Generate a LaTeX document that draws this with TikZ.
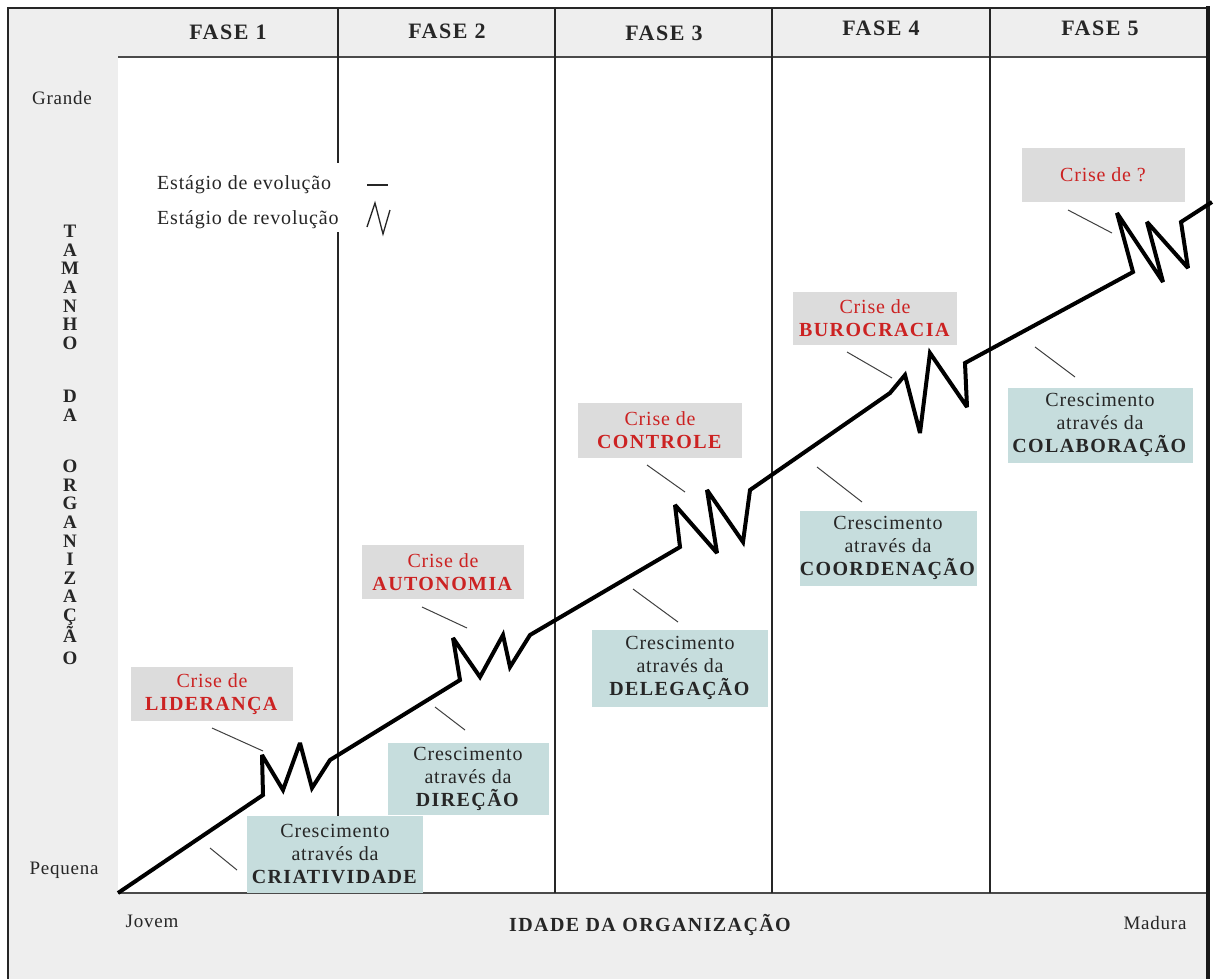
\documentclass[tikz,border=0pt]{standalone}
\usepackage{fontspec}
\setmainfont{Liberation Serif}[LetterSpace=4, BoldFeatures={LetterSpace=7}]

\definecolor{panel}{HTML}{EEEEEE}
\definecolor{crisisgray}{HTML}{DCDCDC}
\definecolor{growthteal}{HTML}{C6DDDD}
\definecolor{crisisred}{HTML}{CC2222}
\definecolor{rulegray}{HTML}{4A4A4A}

\begin{document}
\begin{tikzpicture}[
  x=1pt, y=-1pt,
  rulehoriz/.style={draw=rulegray, line width=2pt},
  divider/.style={draw=black!85, line width=1.6pt},
  phase/.style={font=\bfseries\fontsize{22}{24}\selectfont, text=black!85, inner sep=0pt},
  sidelabel/.style={font=\fontsize{19}{22}\selectfont, text=black!85, inner sep=0pt},
  axisletters/.style={font=\bfseries\fontsize{19}{18.6}\selectfont, text=black!85, align=center, inner sep=0pt, anchor=north},
  crisisbox/.style={fill=crisisgray, inner sep=0pt, align=center, text=crisisred,
    font=\fontsize{20}{23}\selectfont},
  growthbox/.style={fill=growthteal, inner sep=0pt, align=center, text=black!85,
    font=\fontsize{20}{23}\selectfont},
  legendtext/.style={font=\fontsize{20}{23}\selectfont, text=black!85, inner sep=0pt, anchor=west},
  leader/.style={draw=black!75, line width=1pt},
  trend/.style={draw=black, line width=4pt, line join=miter, miter limit=3},
]
\useasboundingbox (0,0) rectangle (1215,978);
\clip (0,0) rectangle (1215,978);

% backgrounds
\fill[white] (0,0) rectangle (1215,978);
\fill[panel] (8,8) rectangle (1208,995);
\fill[white] (118,57) rectangle (1208,893);

% header and base rules
\draw[rulehoriz] (118,57) -- (1208,57);
\draw[rulehoriz] (118,893) -- (1208,893);

% phase dividers (the first one leaves room for the legend)
\draw[divider] (338,8) -- (338,163);
\draw[divider] (338,232) -- (338,893);
\draw[divider] (555,8) -- (555,893);
\draw[divider] (772,8) -- (772,893);
\draw[divider] (990,8) -- (990,893);

% outer frame
\draw[black!85, line width=2pt] (8,995) -- (8,8) -- (1208,8);
\draw[black!90, line width=4pt] (1208,6) -- (1208,995);

% phase headings
\node[phase] (f1) at (228,32) {FASE 1};
\node[phase] (f2) at (447,31) {FASE 2};
\node[phase] (f3) at (664,33) {FASE 3};
\node[phase] (f4) at (881,28) {FASE 4};
\node[phase] (f5) at (1100,28) {FASE 5};

% vertical axis
\node[sidelabel] (big) at (62,98) {Grande};
\node[sidelabel] (small) at (64,870) {Pequena};
\node[axisletters] (ytam) at (70,225) {T\\A\\M\\A\\N\\H\\O};
\node[axisletters] (yda) at (70,390) {D\\A};
\node[axisletters] (yorg) at (70,460) {O\\R\\G\\A\\N\\I\\Z\\A\\Ç\\Ã\\[3pt]O};

% horizontal axis
\node[sidelabel] (young) at (152,921) {Jovem};
\node[phase, font=\bfseries\fontsize{20}{22}\selectfont] (xlab) at (650,925) {IDADE DA ORGANIZAÇÃO};
\node[sidelabel] (mature) at (1155,923) {Madura};

% legend
\node[legendtext] (evo) at (157,185) {Estágio de evolução};
\node[legendtext] (rev) at (157,220) {Estágio de revolução};
\draw[black!85, line width=1.3pt] (367,185) -- (388,185);
\draw[black!85, line width=1.3pt, line join=miter] (367,227) -- (375,203) -- (383,234) -- (390,210);

% growth trend with revolutions
\draw[trend] (118,893) -- (263,795)
  -- (262,755) -- (283,790) -- (300,743) -- (312,788) -- (330,760)
  -- (460,680)
  -- (453,638) -- (480,677) -- (503,635) -- (510,667) -- (530,635)
  -- (680,547)
  -- (675,505) -- (717,553) -- (707,490) -- (743,542) -- (750,490)
  -- (890,393)
  -- (905,375) -- (920,433) -- (930,353) -- (967,407) -- (965,363)
  -- (1133,272)
  -- (1117,213) -- (1163,282) -- (1147,222) -- (1188,268) -- (1181,222)
  -- (1212,202);

% crisis boxes
\node[crisisbox, minimum width=162, minimum height=54] (cr1) at (212,694)
  {Crise de\\\textbf{LIDERANÇA}};
\node[crisisbox, minimum width=162, minimum height=54] (cr2) at (443,572)
  {Crise de\\\textbf{AUTONOMIA}};
\node[crisisbox, minimum width=164, minimum height=55] (cr3) at (660,430)
  {Crise de\\\textbf{CONTROLE}};
\node[crisisbox, minimum width=164, minimum height=53] (cr4) at (875,318)
  {Crise de\\\textbf{BUROCRACIA}};
\node[crisisbox, minimum width=163, minimum height=54] (cr5) at (1103,175)
  {Crise de ?};

% growth boxes
\node[growthbox, minimum width=176, minimum height=77] (gr1) at (335,854)
  {Crescimento\\através da\\\textbf{CRIATIVIDADE}};
\node[growthbox, minimum width=161, minimum height=72] (gr2) at (468,779)
  {Crescimento\\através da\\\textbf{DIREÇÃO}};
\node[growthbox, minimum width=176, minimum height=77] (gr3) at (680,668)
  {Crescimento\\através da\\\textbf{DELEGAÇÃO}};
\node[growthbox, minimum width=177, minimum height=75] (gr4) at (888,548)
  {Crescimento\\através da\\\textbf{COORDENAÇÃO}};
\node[growthbox, minimum width=185, minimum height=75] (gr5) at (1100,425)
  {Crescimento\\através da\\\textbf{COLABORAÇÃO}};

% leader ticks
\coordinate (cr1a) at (212,728); \coordinate (cr1b) at (263,751);
\coordinate (gr1a) at (210,848); \coordinate (gr1b) at (237,870);
\coordinate (cr2a) at (422,607); \coordinate (cr2b) at (467,628);
\coordinate (gr2a) at (435,707); \coordinate (gr2b) at (465,730);
\coordinate (cr3a) at (647,465); \coordinate (cr3b) at (685,492);
\coordinate (gr3a) at (633,589); \coordinate (gr3b) at (678,622);
\coordinate (cr4a) at (847,352); \coordinate (cr4b) at (892,378);
\coordinate (gr4a) at (817,467); \coordinate (gr4b) at (862,502);
\coordinate (cr5a) at (1068,210); \coordinate (cr5b) at (1112,233);
\coordinate (gr5a) at (1035,347); \coordinate (gr5b) at (1075,377);
\foreach \t in {cr1,gr1,cr2,gr2,cr3,gr3,cr4,gr4,cr5,gr5}
  \draw[leader] (\t a) -- (\t b);
\end{tikzpicture}
\end{document}
